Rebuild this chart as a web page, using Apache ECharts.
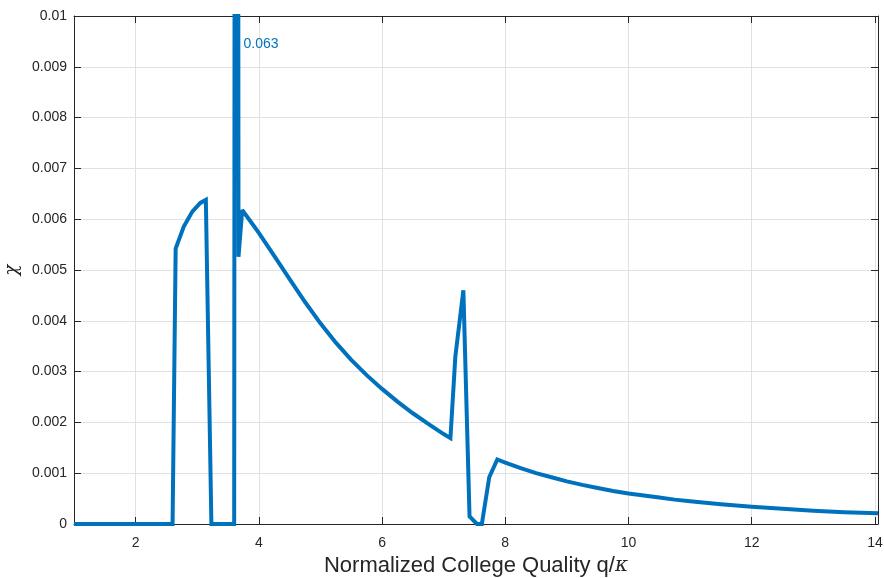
<!DOCTYPE html>
<html>
<head>
<meta charset="utf-8">
<script src="https://cdn.jsdelivr.net/npm/echarts@6/dist/echarts.min.js"></script>
<style>html,body{margin:0;padding:0;background:#fff;}#c{width:884px;height:578px;}</style>
</head>
<body>
<div id="c"></div>
<script>
// Normalized college quality q/kappa
const xValues = [1.0, 2.6, 2.65, 2.78, 2.92, 3.05, 3.14, 3.23, 3.6, 3.635, 3.67, 3.73, 3.84, 4.0, 4.25, 4.5, 4.75, 5.0, 5.25, 5.5, 5.75, 6.0, 6.25, 6.5, 6.75, 7.0, 7.11, 7.19, 7.32, 7.42, 7.54, 7.62, 7.74, 7.87, 8.0, 8.25, 8.5, 8.75, 9.0, 9.25, 9.5, 9.75, 10.0, 10.25, 10.5, 10.75, 11.0, 11.5, 12.0, 12.5, 13.0, 13.5, 14.05];
// chi
const chiValues = [0, 0, 0.00542, 0.00585, 0.00615, 0.00632, 0.00638, 0, 0, 0.063, 0.00526, 0.00618, 0.0060, 0.00573, 0.00528, 0.00482, 0.00437, 0.00395, 0.00357, 0.00323, 0.00293, 0.00266, 0.00241, 0.00218, 0.00197, 0.00177, 0.00169, 0.0033, 0.0046, 0.00015, 0, 0, 0.00092, 0.00127, 0.00121, 0.0011, 0.00100, 0.00092, 0.00084, 0.00077, 0.00071, 0.00065, 0.0006, 0.00056, 0.00052, 0.00048, 0.00045, 0.00039, 0.00034, 0.0003, 0.00026, 0.00023, 0.00021];
const xTicks = [2, 4, 6, 8, 10, 12, 14];
const peakLabel = '0.063';
const peakLabelAt = [3.72, 0.00945];

const textColor = '#262626';
const gridColor = '#e1e1e1';
const lineColor = '#0072BD';
const font = 'Liberation Sans, Arial, Helvetica, sans-serif';

const chart = echarts.init(document.getElementById('c'), null, {renderer: 'canvas'});
const commonX = {
  type: 'value', min: 1, max: 14.05,
  axisLine: {show: true, onZero: false, lineStyle: {color: textColor, width: 1}},
  axisTick: {show: true, inside: true, length: 7, customValues: xTicks, lineStyle: {color: textColor}},
  splitLine: {show: false}
};
const commonY = {
  type: 'value', min: 0, max: 0.01, interval: 0.001,
  axisLine: {show: true, onZero: false, lineStyle: {color: textColor, width: 1}},
  axisTick: {show: true, inside: true, length: 7, lineStyle: {color: textColor}},
  splitLine: {show: false}
};
chart.setOption({
  animation: false,
  backgroundColor: '#fff',
  textStyle: {fontFamily: font},
  grid: {left: 74, top: 16, right: 6, bottom: 54, containLabel: false, outerBoundsMode: 'none'},
  xAxis: [
    Object.assign({}, commonX, {
      position: 'bottom',
      name: 'Normalized College Quality q/{k|\u03BA}',
      nameLocation: 'middle', nameGap: 29,
      nameTextStyle: {color: textColor, fontSize: 22, fontFamily: font,
        rich: {k: {fontSize: 20, fontStyle: 'italic', fontFamily: 'DejaVu Serif, serif', color: textColor}}},
      axisLabel: {show: true, customValues: xTicks, color: textColor, fontSize: 14, margin: 12, fontFamily: font},
      splitLine: {show: true, lineStyle: {color: gridColor, width: 1}}
    }),
    Object.assign({}, commonX, {position: 'top', axisLabel: {show: false}})
  ],
  yAxis: [
    Object.assign({}, commonY, {
      position: 'left',
      name: '\u03C7',
      nameLocation: 'middle', nameGap: 48, nameRotate: 90,
      nameTextStyle: {color: textColor, fontSize: 18, fontStyle: 'italic', fontFamily: 'DejaVu Serif, serif'},
      axisLabel: {show: true, color: textColor, fontSize: 14, margin: 7, fontFamily: font},
      splitLine: {show: true, lineStyle: {color: gridColor, width: 1}}
    }),
    Object.assign({}, commonY, {position: 'right', axisLabel: {show: false}})
  ],
  series: [{
    type: 'line',
    xAxisIndex: 0, yAxisIndex: 0,
    data: xValues.map((x, i) => [x, chiValues[i]]),
    showSymbol: false, symbol: 'none',
    clip: true,
    lineStyle: {color: lineColor, width: 4, join: 'miter', miterLimit: 2},
    markPoint: {
      symbol: 'circle', symbolSize: 0, silent: true,
      data: [{coord: peakLabelAt, value: peakLabel}],
      label: {show: true, position: 'right', distance: 2, formatter: peakLabel, color: lineColor, fontSize: 14, fontFamily: font}
    }
  }]
});
</script>
</body>
</html>
